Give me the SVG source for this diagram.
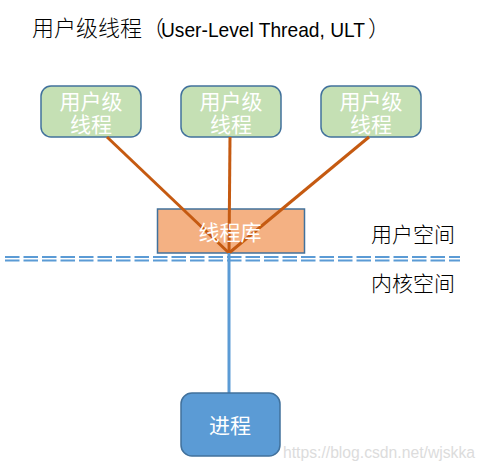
<svg xmlns="http://www.w3.org/2000/svg" width="485" height="471" viewBox="0 0 485 471">
<style>
.cjk{font-family:"Noto Sans CJK SC","Noto Sans",sans-serif;}
.thin{font-weight:300;}
.lat{font-family:"Liberation Sans",Arial,sans-serif;font-size:21px;}
.ult rect{fill:#c5e0b4;stroke:#41719c;stroke-width:1.5;}
.lbl{fill:#ffffff;font-size:21px;text-anchor:middle;}
.side{fill:#000;font-size:21px;}
.conn{stroke:#c55a11;stroke-width:3;fill:none;}
.dash{stroke:#5b9bd5;stroke-width:2;stroke-dasharray:14.5 4;fill:none;}
</style>
<rect width="485" height="471" fill="#fff"/>
<g id="title">
<text class="cjk thin" y="36" font-size="22" fill="#000"><tspan x="32">用户级线程（</tspan><tspan class="lat" x="161" y="37" textLength="204" lengthAdjust="spacingAndGlyphs">User-Level  Thread, ULT</tspan><tspan x="368" y="36">）</tspan></text>
</g>
<g id="ult1" class="ult">
<rect x="41" y="86" width="100" height="51" rx="10"/>
<text class="cjk lbl" y="109"><tspan x="91">用户级</tspan><tspan x="91" dy="23">线程</tspan></text>
</g>
<g id="ult2" class="ult">
<rect x="181" y="86" width="100" height="51" rx="10"/>
<text class="cjk lbl" y="109"><tspan x="231">用户级</tspan><tspan x="231" dy="23">线程</tspan></text>
</g>
<g id="ult3" class="ult">
<rect x="321" y="86" width="100" height="51" rx="10"/>
<text class="cjk lbl" y="109"><tspan x="371">用户级</tspan><tspan x="371" dy="23">线程</tspan></text>
</g>
<g id="lib">
<rect x="157.5" y="209" width="147" height="44" fill="#f4b183" stroke="#41719c" stroke-width="1.5"/>
</g>
<g id="boundary">
<line class="dash" x1="5" y1="257" x2="460" y2="257"/>
<line class="dash" x1="5" y1="260.5" x2="460" y2="260.5"/>
</g>
<g id="connectors">
<line class="conn" x1="107" y1="137" x2="229" y2="253"/>
<line class="conn" x1="230" y1="137" x2="229" y2="253"/>
<line class="conn" x1="369" y1="137" x2="229" y2="253"/>
<line x1="229" y1="253" x2="229" y2="393" stroke="#5b9bd5" stroke-width="3"/>
</g>
<g id="lib-label">
<text class="cjk lbl" x="230" y="240">线程库</text>
</g>
<g id="proc">
<rect x="181" y="393" width="99" height="63" rx="11" fill="#5b9bd5" stroke="#41719c" stroke-width="1.5"/>
<text class="cjk lbl" x="230" y="433" font-size="22">进程</text>
</g>
<g id="spaces">
<text class="cjk side thin" x="371" y="242">用户空间</text>
<text class="cjk side thin" x="371" y="291">内核空间</text>
</g>
<text x="283" y="458" font-size="16" fill="#dcdcdc" font-family="Liberation Sans,Arial,sans-serif" textLength="192" lengthAdjust="spacingAndGlyphs">https://blog.csdn.net/wjskka</text>
</svg>
